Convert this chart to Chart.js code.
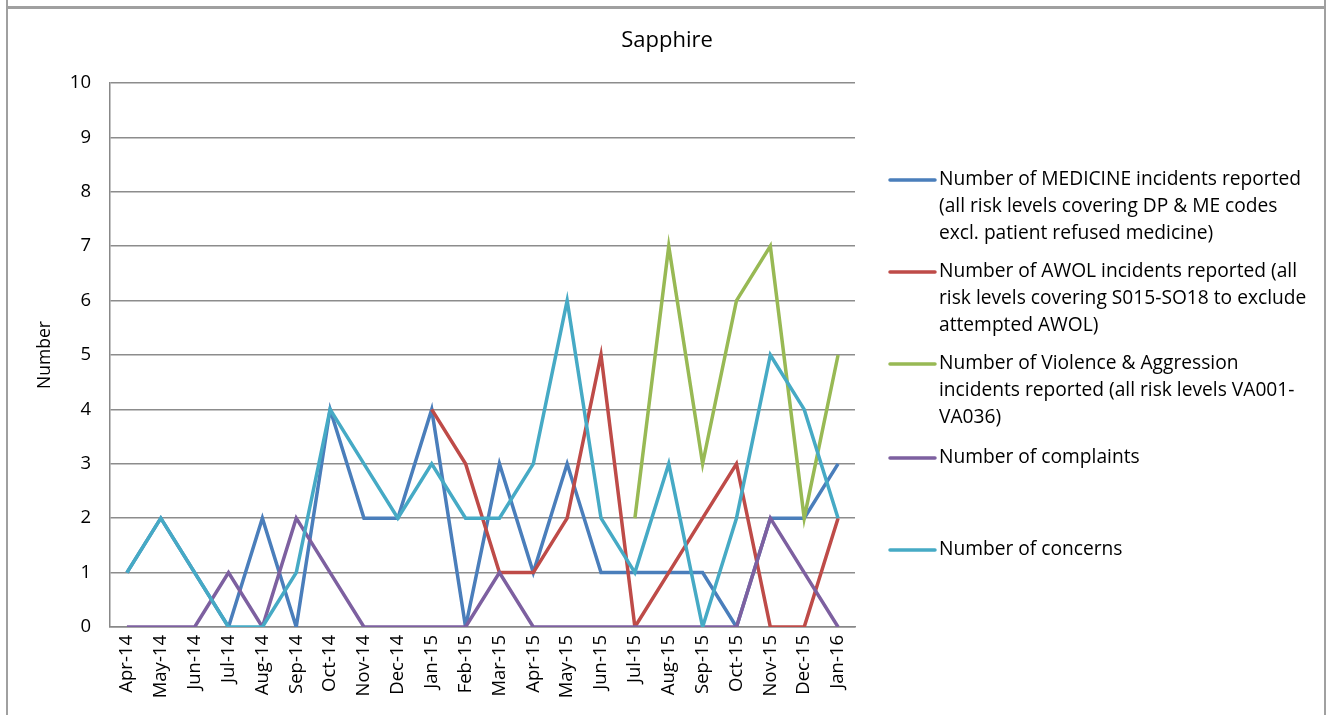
<!DOCTYPE html>
<html>
<head>
<meta charset="utf-8">
<script src="https://cdn.jsdelivr.net/npm/chart.js@4.4.0/dist/chart.umd.min.js"></script>
<style>
  html, body { margin: 0; padding: 0; background: #fff; }
  #wrap { position: relative; width: 1334px; height: 715px; }
  #frame { position: absolute; left: 6px; top: 6px; width: 1320px; height: 720px;
           border-left: 2px solid #a0a0a0; border-top: 3px solid #a0a0a0; border-right: 2px solid #a0a0a0; box-sizing: border-box; }
  #topl { position: absolute; left: 6px; top: 0; width: 2px; height: 8px; background: #a0a0a0; }
  #topr { position: absolute; left: 1324px; top: 0; width: 2px; height: 8px; background: #a0a0a0; }
  canvas { position: absolute; left: 0; top: 0; }
</style>
</head>
<body>
<div id="wrap">
  <div id="topl"></div><div id="topr"></div>
  <div id="frame"></div>
  <canvas id="chart" width="1334" height="715"></canvas>
</div>
<script>
// Chart data
const months = ['Apr-14','May-14','Jun-14','Jul-14','Aug-14','Sep-14','Oct-14','Nov-14','Dec-14',
                'Jan-15','Feb-15','Mar-15','Apr-15','May-15','Jun-15','Jul-15','Aug-15','Sep-15',
                'Oct-15','Nov-15','Dec-15','Jan-16'];
const medicine   = [1, 2, 1, 0, 2, 0, 4, 2, 2, 4, 0, 3, 1, 3, 1, 1, 1, 1, 0, 2, 2, 3];
const awol       = [null, null, null, null, null, null, null, null, null, 4, 3, 1, 1, 2, 5, 0, 1, 2, 3, 0, 0, 2];
const violence   = [null, null, null, null, null, null, null, null, null, null, null, null, null, null, null, 2, 7, 3, 6, 7, 2, 5];
const complaints = [0, 0, 0, 1, 0, 2, 1, 0, 0, 0, 0, 1, 0, 0, 0, 0, 0, 0, 0, 2, 1, 0];
const concerns   = [1, 2, 1, 0, 0, 1, 4, 3, 2, 3, 2, 2, 3, 6, 2, 1, 3, 0, 2, 5, 4, 2];
const yTicks = [0, 1, 2, 3, 4, 5, 6, 7, 8, 9, 10];

const legendText = [
    ['Number of MEDICINE incidents reported', '(all risk levels covering DP & ME codes', 'excl. patient refused medicine)'],
    ['Number of AWOL incidents reported (all', 'risk levels covering S015-SO18 to exclude', 'attempted AWOL)'],
    ['Number of Violence & Aggression', 'incidents reported (all risk levels VA001-', 'VA036)'],
    ['Number of complaints'],
    ['Number of concerns']
];

const COLORS = ['#4a7ebb', '#be4b48', '#98b954', '#7d60a0', '#46aac5'];
const FONT = '"Open Sans", Lato, sans-serif';

function makeSet(label, data, i) {
    return {
        label: label,
        data: data,
        borderColor: COLORS[i],
        backgroundColor: COLORS[i],
        borderWidth: 3.5,
        pointRadius: 0,
        tension: 0,
        spanGaps: false,
        order: 5 - i
    };
}

// title + custom wrapped legend like the Excel original
const decorPlugin = {
    id: 'decor',
    afterDraw(chart) {
        const ctx = chart.ctx;
        ctx.save();
        ctx.fillStyle = '#000';
        ctx.font = '22px ' + FONT;
        ctx.textAlign = 'center';
        ctx.textBaseline = 'middle';
        ctx.fillText('Sapphire', 667, 41);

        const ys = [180, 272, 364, 458, 550];
        ctx.font = '19.2px ' + FONT;
        ctx.textAlign = 'left';
        legendText.forEach((lines, i) => {
            ctx.strokeStyle = COLORS[i];
            ctx.lineWidth = 3.5;
            ctx.lineCap = 'round';
            ctx.beginPath();
            ctx.moveTo(890, ys[i]);
            ctx.lineTo(935, ys[i]);
            ctx.stroke();
            lines.forEach((t, j) => ctx.fillText(t, 939, ys[i] + j * 26.7));
        });
        ctx.restore();
    }
};

new Chart(document.getElementById('chart'), {
    type: 'line',
    data: {
        labels: months,
        datasets: [
            makeSet(legendText[0].join(' '), medicine, 0),
            makeSet(legendText[1].join(' '), awol, 1),
            makeSet(legendText[2].join(' '), violence, 2),
            makeSet(legendText[3].join(' '), complaints, 3),
            makeSet(legendText[4].join(' '), concerns, 4)
        ]
    },
    options: {
        responsive: false,
        animation: false,
        layout: { padding: { top: 83, right: 479, left: 0, bottom: 0 } },
        plugins: {
            legend: { display: false },
            title: { display: false },
            tooltip: { enabled: false }
        },
        scales: {
            x: {
                offset: true,
                grid: { display: false, drawTicks: false },
                border: { color: '#888', width: 1.5 },
                ticks: {
                    color: '#000',
                    font: { family: FONT, size: 18.5 },
                    minRotation: 90,
                    maxRotation: 90,
                    autoSkip: false,
                    padding: 8
                },
                afterFit(scale) { scale.height = 88; }
            },
            y: {
                min: 0,
                max: 10,
                afterBuildTicks(scale) { scale.ticks = yTicks.map(v => ({ value: v })); },
                grid: { color: '#8c8c8c', lineWidth: 1.5, drawTicks: false },
                border: { color: '#888', width: 1.5 },
                ticks: {
                    color: '#000',
                    font: { family: FONT, size: 18.5 },
                    padding: 19
                },
                title: {
                    display: true,
                    text: 'Number',
                    color: '#000',
                    font: { family: FONT, size: 17.5 },
                    padding: { top: 35, bottom: 0 }
                },
                afterFit(scale) { scale.width = 110; }
            }
        }
    },
    plugins: [decorPlugin]
});
</script>
</body>
</html>
